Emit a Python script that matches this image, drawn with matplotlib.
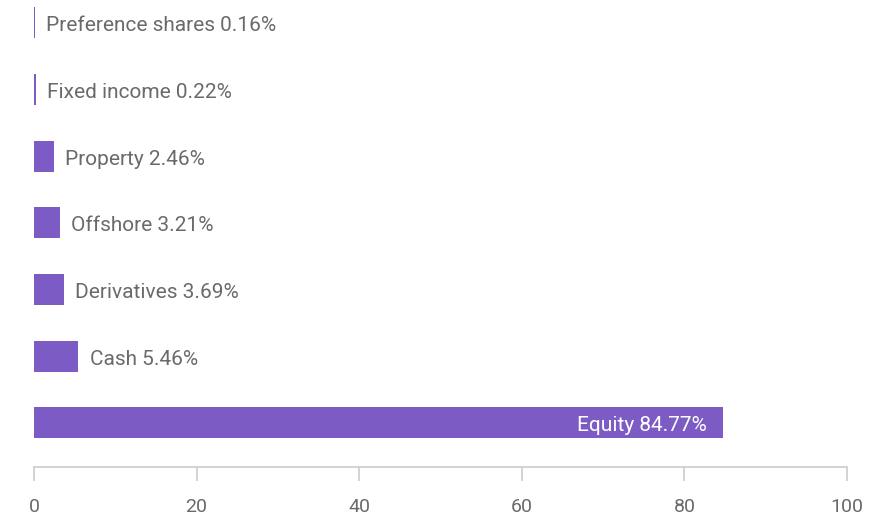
import numpy as np
import matplotlib.pyplot as plt

categories = ['Preference shares', 'Fixed income', 'Property', 'Offshore',
              'Derivatives', 'Cash', 'Equity']
values = [0.16, 0.22, 2.46, 3.21, 3.69, 5.46, 84.77]
xticks = [0, 20, 40, 60, 80, 100]

bar_color = '#7d5bc4'
text_color = '#6a6a6a'
axis_color = '#cccccc'

plt.rcParams['font.family'] = ['Roboto', 'DejaVu Sans']

fig = plt.figure(figsize=(8.72, 5.16), dpi=100)
ax = fig.add_axes([0.039, 0.095, 0.9323, 0.905])

ypos = np.arange(len(categories))
ax.barh(ypos, values, height=0.465, color=bar_color)

for y, name, v in zip(ypos, categories, values):
    label = f'{name} {v:.2f}%'
    if v > 50:
        ax.annotate(label, (v, y), xytext=(-12, -2), textcoords='offset points',
                    ha='right', va='center', color='white', fontsize=15)
    else:
        ax.annotate(label, (v, y), xytext=(8, -2), textcoords='offset points',
                    ha='left', va='center', color=text_color, fontsize=15)

ax.set_xlim(0, 100)
ax.set_ylim(6.66, -0.345)
ax.set_xticks(xticks)
ax.set_yticks([])
for s in ['top', 'right', 'left']:
    ax.spines[s].set_visible(False)
ax.spines['bottom'].set_color(axis_color)
ax.spines['bottom'].set_linewidth(1.2)
ax.tick_params(axis='x', length=10, width=1.2, color=axis_color,
               labelcolor=text_color, labelsize=14, pad=12)

fig.savefig('out.png', dpi=100)
